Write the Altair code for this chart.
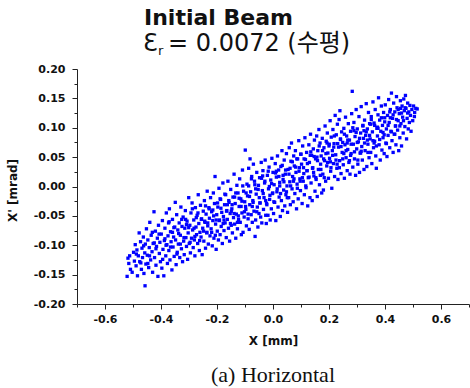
import altair as alt
import pandas as pd

# Particles as (x [mm], x' [mrad]) pairs, grouped by region
TAIL_LEFT = [
    (-0.521, -0.153), (-0.518, -0.122), (-0.515, -0.131), (-0.512, -0.118), (-0.509, -0.141),
    (-0.503, -0.146), (-0.498, -0.112), (-0.495, -0.127), (-0.492, -0.099), (-0.489, -0.135),
    (-0.486, -0.108), (-0.484, -0.152), (-0.481, -0.118),
    (-0.478, -0.079), (-0.476, -0.128), (-0.473, -0.094), (-0.470, -0.141), (-0.468, -0.105),
    (-0.466, -0.121), (-0.463, -0.086), (-0.461, -0.148), (-0.458, -0.113), (-0.456, -0.098),
    (-0.457, -0.169), (-0.454, -0.132), (-0.452, -0.072), (-0.449, -0.117), (-0.447, -0.091),
    (-0.444, -0.138), (-0.442, -0.104), (-0.440, -0.061), (-0.437, -0.125), (-0.435, -0.083),
    (-0.432, -0.111), (-0.430, -0.146),
    (-0.428, -0.097), (-0.425, -0.043), (-0.423, -0.121), (-0.420, -0.076), (-0.418, -0.134),
    (-0.416, -0.102), (-0.413, -0.088), (-0.411, -0.153), (-0.409, -0.066), (-0.406, -0.114),
    (-0.404, -0.095), (-0.402, -0.128),
    (-0.399, -0.081), (-0.397, -0.139), (-0.395, -0.058), (-0.393, -0.107), (-0.390, -0.152),
    (-0.388, -0.092), (-0.386, -0.071), (-0.383, -0.118), (-0.381, -0.045), (-0.379, -0.099),
    (-0.377, -0.131), (-0.375, -0.084), (-0.373, -0.062),
    (-0.372, -0.109), (-0.370, -0.038), (-0.368, -0.125), (-0.366, -0.077), (-0.364, -0.094),
    (-0.361, -0.142), (-0.359, -0.056), (-0.357, -0.103), (-0.355, -0.086), (-0.353, -0.119),
    (-0.351, -0.069), (-0.349, -0.027),
    (-0.348, -0.091), (-0.346, -0.133), (-0.344, -0.048), (-0.342, -0.112), (-0.340, -0.074),
    (-0.338, -0.098), (-0.335, -0.062), (-0.333, -0.121), (-0.331, -0.083), (-0.329, -0.035),
    (-0.327, -0.106), (-0.325, -0.068), (-0.323, -0.128),
    (-0.321, -0.052), (-0.319, -0.093), (-0.317, -0.116), (-0.315, -0.071), (-0.313, -0.041),
    (-0.311, -0.087), (-0.309, -0.102), (-0.307, -0.059), (-0.305, -0.124), (-0.303, -0.079),
    (-0.301, -0.019),
]

CORE_LEFT = [
    (-0.299, -0.097), (-0.297, -0.066), (-0.295, -0.113), (-0.293, -0.045), (-0.291, -0.088),
    (-0.289, -0.028), (-0.287, -0.074), (-0.285, -0.104), (-0.283, -0.057), (-0.281, -0.091),
    (-0.279, -0.118), (-0.277, -0.036), (-0.275, -0.069), (-0.273, -0.082),
    (-0.271, -0.049), (-0.269, -0.097), (-0.267, -0.014), (-0.265, -0.063), (-0.263, -0.109),
    (-0.261, -0.078), (-0.259, -0.032), (-0.257, -0.086), (-0.255, -0.055), (-0.253, -0.116),
    (-0.251, -0.071), (-0.249, -0.042),
    (-0.247, -0.093), (-0.245, -0.024), (-0.243, -0.061), (-0.241, -0.105), (-0.239, -0.047),
    (-0.237, -0.079), (-0.235, -0.008), (-0.233, -0.067), (-0.231, -0.098), (-0.229, -0.036),
    (-0.227, -0.054), (-0.225, -0.084), (-0.223, -0.019),
    (-0.221, -0.072), (-0.219, -0.043), (-0.217, -0.101), (-0.215, -0.058), (-0.213, -0.011),
    (-0.211, -0.088), (-0.209, -0.029), (-0.207, 0.017), (-0.205, -0.064), (-0.203, -0.107),
    (-0.201, -0.048), (-0.199, -0.076),
    (-0.197, -0.035), (-0.195, -0.091), (-0.193, -0.003), (-0.191, -0.057), (-0.189, -0.082),
    (-0.187, -0.022), (-0.185, -0.068), (-0.183, -0.044), (-0.181, -0.097), (-0.179, 0.006),
    (-0.177, -0.051), (-0.175, -0.075), (-0.173, -0.031),
    (-0.171, -0.062), (-0.169, -0.014), (-0.167, -0.087), (-0.165, -0.041), (-0.163, -0.056),
    (-0.161, 0.009), (-0.159, -0.071), (-0.157, -0.027), (-0.155, -0.093), (-0.153, -0.046),
    (-0.151, -0.005), (-0.149, -0.066),
    (-0.147, -0.038), (-0.145, -0.079), (-0.143, -0.018), (-0.141, -0.053), (-0.139, 0.021),
    (-0.137, -0.064), (-0.135, -0.029), (-0.133, -0.088), (-0.131, -0.047), (-0.129, 0.002),
    (-0.127, -0.072), (-0.125, -0.011), (-0.123, -0.056),
    (-0.121, -0.034), (-0.119, 0.013), (-0.117, -0.061), (-0.115, -0.021), (-0.113, -0.082),
    (-0.111, -0.045), (-0.109, 0.028), (-0.107, -0.078), (-0.105, -0.008), (-0.103, -0.052),
    (-0.101, -0.026), (-0.099, 0.062),
    (-0.097, -0.039), (-0.095, -0.067), (-0.093, 0.004), (-0.091, -0.016), (-0.089, -0.055),
    (-0.087, 0.031), (-0.085, -0.073), (-0.083, -0.031), (-0.082, 0.047), (-0.080, -0.009),
    (-0.078, -0.048), (-0.076, 0.017), (-0.074, -0.061),
    (-0.072, -0.024), (-0.070, 0.038), (-0.068, -0.042), (-0.066, 0.009), (-0.064, -0.085),
    (-0.062, -0.057), (-0.060, -0.013), (-0.058, 0.024), (-0.056, -0.035), (-0.054, -0.069),
    (-0.052, 0.002), (-0.050, -0.046),
    (-0.048, 0.015), (-0.046, -0.028), (-0.044, -0.052), (-0.042, 0.041), (-0.040, -0.062),
    (-0.038, -0.007), (-0.036, 0.027), (-0.034, -0.039), (-0.032, -0.019), (-0.030, 0.006),
    (-0.028, 0.045), (-0.026, -0.049), (-0.024, -0.063),
    (-0.022, -0.031), (-0.020, 0.019), (-0.018, -0.049), (-0.016, -0.004), (-0.014, 0.033),
    (-0.012, -0.022), (-0.010, -0.057), (-0.008, 0.011), (-0.006, -0.038), (-0.004, 0.048),
    (-0.002, -0.012),
]

CORE_RIGHT = [
    (0.000, 0.024), (0.002, -0.046), (0.004, 0.003), (0.006, -0.027), (0.008, 0.039),
    (0.010, -0.058), (0.012, 0.016), (0.014, -0.009), (0.016, 0.052), (0.018, -0.035),
    (0.020, 0.028), (0.022, -0.018), (0.024, 0.007), (0.026, -0.051),
    (0.028, 0.034), (0.030, -0.024), (0.032, 0.061), (0.034, -0.041), (0.036, 0.012),
    (0.038, -0.006), (0.040, 0.045), (0.042, -0.033), (0.044, 0.021), (0.046, -0.014),
    (0.048, 0.056), (0.050, 0.001),
    (0.052, -0.044), (0.054, 0.029), (0.056, -0.019), (0.058, 0.066), (0.060, 0.008),
    (0.062, -0.031), (0.064, 0.043), (0.066, 0.074), (0.068, -0.004), (0.070, 0.017),
    (0.072, -0.026), (0.074, 0.052), (0.076, 0.035),
    (0.078, -0.012), (0.080, 0.061), (0.082, 0.024), (0.084, -0.038), (0.086, 0.004),
    (0.088, 0.047), (0.090, -0.021), (0.092, 0.078), (0.094, 0.032), (0.096, 0.013),
    (0.098, -0.007), (0.100, 0.055),
    (0.102, 0.038), (0.104, -0.029), (0.106, 0.069), (0.108, 0.009), (0.110, 0.022),
    (0.112, -0.014), (0.114, 0.083), (0.116, 0.046), (0.118, -0.002), (0.120, 0.058),
    (0.122, 0.027), (0.124, -0.033), (0.126, 0.015),
    (0.128, 0.071), (0.130, 0.041), (0.132, -0.019), (0.134, 0.089), (0.136, 0.006),
    (0.138, 0.053), (0.140, -0.024), (0.142, 0.032), (0.144, 0.064), (0.146, 0.018),
    (0.148, 0.079), (0.150, -0.008),
    (0.152, 0.047), (0.154, 0.012), (0.156, 0.086), (0.158, -0.017), (0.160, 0.061),
    (0.162, 0.029), (0.164, 0.097), (0.166, 0.003), (0.168, 0.074), (0.170, 0.038),
    (0.172, 0.052), (0.174, -0.011), (0.176, 0.082),
    (0.178, 0.021), (0.180, -0.006), (0.182, 0.066), (0.184, 0.044), (0.186, 0.103),
    (0.188, 0.009), (0.190, 0.077), (0.192, 0.035), (0.194, 0.091), (0.196, 0.057),
    (0.198, 0.014), (0.200, 0.069),
    (0.202, 0.048), (0.204, 0.112), (0.206, 0.026), (0.208, 0.084), (0.210, -0.003),
    (0.212, 0.061), (0.214, 0.097), (0.216, 0.039), (0.218, 0.073), (0.220, 0.017),
    (0.222, 0.121), (0.224, 0.054), (0.226, 0.088),
    (0.228, 0.031), (0.230, 0.106), (0.232, 0.012), (0.234, 0.067), (0.236, 0.114),
    (0.238, 0.044), (0.239, 0.129), (0.241, 0.081), (0.243, 0.022), (0.245, 0.093),
    (0.247, 0.058), (0.249, 0.075),
    (0.251, 0.037), (0.253, 0.099), (0.255, 0.014), (0.257, 0.071), (0.259, 0.118),
    (0.261, 0.049), (0.263, 0.086), (0.265, 0.027), (0.267, 0.063), (0.269, 0.107),
    (0.271, 0.041), (0.273, 0.079), (0.275, 0.021),
    (0.277, 0.094), (0.279, 0.056), (0.281, 0.124), (0.283, 0.162), (0.285, 0.033),
    (0.287, 0.072), (0.289, 0.109), (0.291, 0.047), (0.293, 0.085), (0.295, 0.019),
    (0.297, 0.131), (0.299, 0.064),
]

TAIL_RIGHT = [
    (0.301, 0.098), (0.303, 0.038), (0.305, 0.076), (0.307, 0.119), (0.309, 0.024),
    (0.311, 0.057), (0.313, 0.091), (0.315, 0.136), (0.317, 0.068), (0.319, 0.045),
    (0.321, 0.104), (0.323, 0.082), (0.325, 0.029),
    (0.327, 0.113), (0.329, 0.061), (0.331, 0.087), (0.333, 0.141), (0.335, 0.034),
    (0.337, 0.098), (0.339, 0.072), (0.341, 0.126), (0.343, 0.049), (0.345, 0.107),
    (0.347, 0.081), (0.349, 0.058),
    (0.351, 0.119), (0.353, 0.039), (0.355, 0.093), (0.357, 0.144), (0.359, 0.066),
    (0.361, 0.108), (0.363, 0.077), (0.365, 0.131), (0.367, 0.052), (0.369, 0.031),
    (0.371, 0.099), (0.373, 0.086), (0.375, 0.122),
    (0.377, 0.151), (0.379, 0.071), (0.381, 0.113), (0.383, 0.045), (0.385, 0.094),
    (0.387, 0.137), (0.389, 0.062), (0.391, 0.104), (0.393, 0.083), (0.395, 0.126),
    (0.397, 0.056), (0.399, 0.117),
    (0.401, 0.139), (0.403, 0.074), (0.405, 0.098), (0.407, 0.051), (0.409, 0.121),
    (0.411, 0.087), (0.413, 0.148), (0.415, 0.109), (0.417, 0.066), (0.419, 0.131),
    (0.421, 0.094), (0.423, 0.159), (0.425, 0.078),
    (0.427, 0.116), (0.429, 0.058), (0.431, 0.142), (0.433, 0.089), (0.435, 0.127),
    (0.437, 0.103), (0.439, 0.071), (0.441, 0.153), (0.443, 0.134), (0.445, 0.096),
    (0.447, 0.112), (0.449, 0.061),
    (0.451, 0.124), (0.453, 0.083), (0.455, 0.146), (0.457, 0.107), (0.459, 0.069),
    (0.461, 0.137), (0.463, 0.118), (0.465, 0.091), (0.467, 0.149), (0.469, 0.129),
    (0.471, 0.102), (0.473, 0.155),
    (0.475, 0.133), (0.477, 0.081), (0.479, 0.116), (0.481, 0.142), (0.483, 0.098),
    (0.485, 0.127), (0.487, 0.109), (0.489, 0.138), (0.491, 0.121), (0.493, 0.094),
    (0.496, 0.131), (0.499, 0.112), (0.502, 0.137), (0.506, 0.126), (0.510, 0.133),
    (0.515, 0.132), (0.505, 0.119),
]

# denser particles along the middle of the band
DENSE_CORE = [
    (-0.462, -0.101), (-0.447, -0.131), (-0.431, -0.078), (-0.418, -0.106), (-0.407, -0.081),
    (-0.394, -0.124), (-0.386, -0.089), (-0.371, -0.060), (-0.366, -0.103), (-0.354, -0.070),
    (-0.343, -0.115), (-0.337, -0.080), (-0.326, -0.056), (-0.318, -0.087), (-0.309, -0.065),
    (-0.296, -0.095), (-0.288, -0.038), (-0.282, -0.071), (-0.274, -0.053), (-0.262, -0.092),
    (-0.256, -0.056), (-0.248, -0.076), (-0.241, -0.033), (-0.233, -0.062), (-0.228, -0.038),
    (-0.219, -0.078), (-0.212, -0.050), (-0.206, -0.083), (-0.198, -0.028), (-0.192, -0.058),
    (-0.186, -0.037), (-0.178, -0.063), (-0.172, -0.013), (-0.166, -0.042), (-0.158, -0.024),
    (-0.152, -0.063), (-0.146, -0.031), (-0.139, -0.046), (-0.133, -0.011), (-0.127, -0.061),
    (-0.121, -0.020), (-0.114, -0.034), (-0.108, 0.001), (-0.102, -0.043), (-0.096, -0.011),
    (-0.089, -0.047), (-0.084, -0.017), (-0.077, 0.013), (-0.071, -0.027), (-0.065, 0.003),
    (-0.058, -0.043), (-0.053, -0.005), (-0.047, -0.028), (-0.041, 0.014), (-0.035, -0.012),
    (-0.029, 0.009), (-0.023, -0.029), (-0.017, 0.026), (-0.011, -0.015), (-0.005, 0.005),
    (0.003, -0.026), (0.009, 0.023), (0.015, -0.004), (0.021, 0.017), (0.027, -0.012),
    (0.033, 0.036), (0.039, 0.008), (0.045, 0.028), (0.051, -0.019), (0.057, 0.021),
    (0.063, 0.001), (0.069, 0.042), (0.075, 0.013), (0.081, 0.033), (0.087, -0.003),
    (0.093, 0.026), (0.099, 0.055), (0.105, 0.015), (0.111, 0.047), (0.117, 0.001),
    (0.123, 0.039), (0.129, 0.016), (0.135, 0.059), (0.141, 0.031), (0.147, 0.051),
    (0.153, 0.015), (0.159, 0.044), (0.165, 0.069), (0.171, 0.029), (0.177, 0.061),
    (0.183, 0.015), (0.189, 0.056), (0.195, 0.041), (0.201, 0.072), (0.207, 0.032),
    (0.213, 0.053), (0.219, 0.086), (0.225, 0.045), (0.231, 0.073), (0.237, 0.032),
    (0.243, 0.068), (0.249, 0.047), (0.255, 0.089), (0.261, 0.061), (0.267, 0.079),
    (0.273, 0.044), (0.279, 0.072), (0.285, 0.100), (0.291, 0.059), (0.297, 0.092),
    (0.303, 0.045), (0.309, 0.082), (0.315, 0.060), (0.321, 0.103), (0.327, 0.074),
    (0.333, 0.093), (0.339, 0.058), (0.345, 0.087), (0.351, 0.114), (0.357, 0.078),
    (0.363, 0.104), (0.369, 0.069), (0.375, 0.099), (0.381, 0.080), (0.387, 0.117),
    (0.393, 0.092), (0.399, 0.110), (0.405, 0.073), (0.411, 0.104), (0.417, 0.127),
    (0.423, 0.093), (0.429, 0.122), (0.435, 0.089), (0.441, 0.114), (0.447, 0.131),
    (0.453, 0.103), (0.459, 0.125), (0.466, 0.112), (0.472, 0.134), (0.481, 0.125),
    (-0.301, -0.070), (-0.279, -0.085), (-0.268, -0.045), (-0.244, -0.059), (-0.236, -0.078),
    (-0.215, -0.040), (-0.203, -0.057), (-0.189, -0.021), (-0.175, -0.057), (-0.163, -0.031),
    (-0.149, -0.042), (-0.137, -0.018), (-0.124, -0.050), (-0.111, -0.025), (-0.098, -0.034),
    (-0.087, 0.001), (-0.074, -0.034), (-0.062, -0.004), (-0.049, -0.019), (-0.037, 0.018),
    (-0.026, -0.024), (-0.013, 0.000), (-0.001, -0.011), (0.012, 0.026), (0.024, 0.001),
    (0.036, 0.019), (0.048, -0.009), (0.061, 0.031), (0.073, 0.009), (0.085, 0.047),
    (0.097, 0.009), (0.109, 0.032), (0.121, 0.027), (0.133, 0.053), (0.145, 0.024),
    (0.157, 0.050), (0.169, 0.019), (0.181, 0.047), (0.193, 0.074), (0.205, 0.042),
    (0.217, 0.067), (0.229, 0.038), (0.241, 0.080), (0.253, 0.056), (0.265, 0.074),
    (0.277, 0.053), (0.289, 0.095), (0.301, 0.075), (0.313, 0.057), (0.325, 0.095),
    (0.337, 0.079), (0.349, 0.106), (0.361, 0.074), (0.373, 0.101), (0.397, 0.088),
    (0.419, 0.117), (0.438, 0.103), (0.456, 0.133), (-0.382, -0.100), (-0.359, -0.078),
    (-0.331, -0.098), (-0.312, -0.056), (-0.424, -0.096), (-0.441, -0.118), (-0.488, -0.115),
    (-0.472, -0.130),
]

X_TICKS = [-0.7, -0.6, -0.5, -0.4, -0.3, -0.2, -0.1, 0.0, 0.1, 0.2, 0.3, 0.4, 0.5, 0.6, 0.7]
Y_TICKS = [-0.2, -0.175, -0.15, -0.125, -0.1, -0.075, -0.05, -0.025, 0.0,
           0.025, 0.05, 0.075, 0.1, 0.125, 0.15, 0.175, 0.2]
X_DOMAIN = [-0.7, 0.7]
Y_DOMAIN = [-0.2, 0.2]

X_TITLE = "X [mm]"
Y_TITLE = "X' [mrad]"
TITLE_LINE1 = "Initial Beam"
EPS_SYMBOL = "Ɛ"
EPS_SUB = "r"
TITLE_LINE2 = "= 0.0072 (수평)"
CAPTION = "(a) Horizontal"

rows = TAIL_LEFT + CORE_LEFT + CORE_RIGHT + TAIL_RIGHT + DENSE_CORE
df = pd.DataFrame(rows, columns=["x", "xp"])

SANS = "DejaVu Sans, Noto Sans CJK KR"
AXIS_COLOR = "#222222"

x_axis = alt.Axis(
    values=X_TICKS,
    title=X_TITLE,
    grid=False,
    labelExpr="abs(round(datum.value*10)) % 2 == 0 ? replace(format(datum.value, '.1f'), '\u2212', '-') : ''",
    labelOverlap=False,
    labelFlush=False,
    labelFont="DejaVu Sans",
    labelFontWeight="bold",
    labelFontSize=11,
    labelColor="#111111",
    labelPadding=4,
    tickSize={"condition": {"test": "abs(round(datum.value*10)) % 2 == 0", "value": 5}, "value": 3},
    tickColor=AXIS_COLOR,
    domainColor=AXIS_COLOR,
    titleFont="DejaVu Sans",
    titleFontWeight="bold",
    titleFontSize=12,
    titleColor="#111111",
    titleBaseline="alphabetic",
    titleY=40,
)

y_axis = alt.Axis(
    values=Y_TICKS,
    title=Y_TITLE,
    grid=False,
    labelExpr="abs(round(datum.value*1000)) % 50 == 0 ? replace(format(datum.value, '.2f'), '\u2212', '-') : ''",
    labelOverlap=False,
    labelFlush=False,
    labelFont="DejaVu Sans",
    labelFontWeight="bold",
    labelFontSize=11,
    labelColor="#111111",
    labelPadding=7,
    tickSize={"condition": {"test": "abs(round(datum.value*1000)) % 50 == 0", "value": 5}, "value": 3},
    tickColor=AXIS_COLOR,
    domainColor=AXIS_COLOR,
    titleFont="DejaVu Sans",
    titleFontWeight="bold",
    titleFontSize=12,
    titleColor="#111111",
    titleX=-58,
    titleY=121,
)

points = alt.Chart(df).mark_square(size=11, color="#0000ff", opacity=1).encode(
    x=alt.X("x:Q", scale=alt.Scale(domain=X_DOMAIN, nice=False, zero=False), axis=x_axis),
    y=alt.Y("xp:Q", scale=alt.Scale(domain=Y_DOMAIN, nice=False, zero=False), axis=y_axis),
)


def label(text, x, y, size, weight="normal", font=SANS, align="left"):
    return alt.Chart(pd.DataFrame({"t": [text]})).mark_text(
        font=font, fontSize=size, fontWeight=weight, align=align,
        baseline="alphabetic", color="#111111",
    ).encode(x=alt.value(x), y=alt.value(y), text="t:N")


chart = alt.layer(
    points,
    label(TITLE_LINE1, 67, -44, 22, "bold"),
    label(EPS_SYMBOL, 66, -18, 24),
    label(EPS_SUB, 81, -14, 13),
    label(TITLE_LINE2, 91, -18, 24),
    label(CAPTION, 196, 313, 22, font="Liberation Serif", align="center"),
).properties(
    width=392,
    height=235,
    padding={"left": 77, "top": 69, "right": 1, "bottom": 84},
    autosize=alt.AutoSizeParams(type="none"),
).configure_view(stroke="transparent")

chart.save("out.html", embed_options={"renderer": "svg", "actions": False})
